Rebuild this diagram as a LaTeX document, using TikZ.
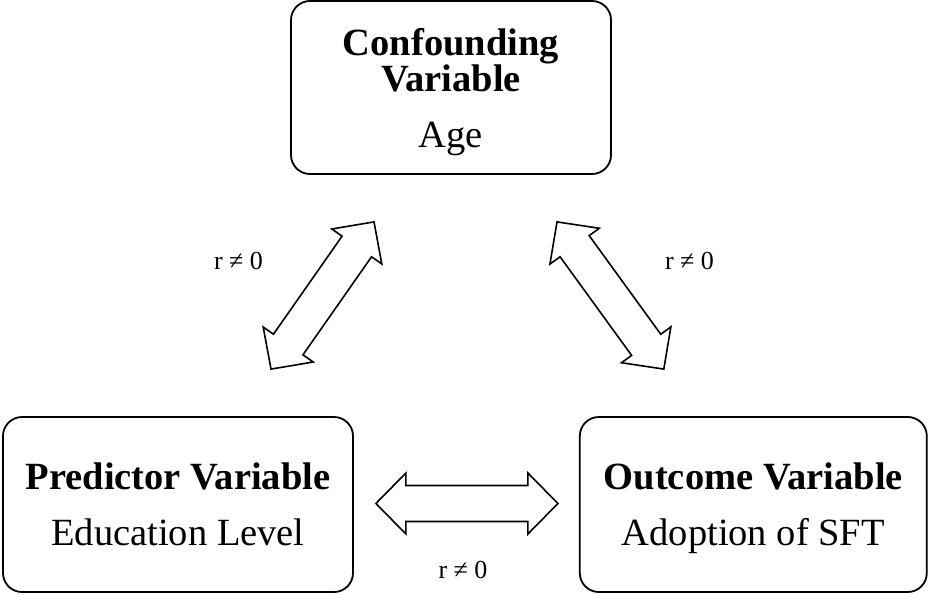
\documentclass[tikz,border=0pt]{standalone}
\usepackage{fontspec}
\setmainfont{Liberation Serif}
\usetikzlibrary{positioning,calc}

% two-headed block arrow between two named coordinates
\newcommand{\dblarrow}[2]{%
  \coordinate (ha) at ($(#1)!30pt!(#2)$);
  \coordinate (hb) at ($(#2)!30pt!(#1)$);
  \draw[blockarrow] (#1) -- ($(ha)!30.5pt!90:(#1)$) -- ($(ha)!18pt!90:(#1)$)
    -- ($(hb)!18pt!-90:(#2)$) -- ($(hb)!30.5pt!-90:(#2)$) -- (#2)
    -- ($(hb)!30.5pt!90:(#2)$) -- ($(hb)!18pt!90:(#2)$)
    -- ($(ha)!18pt!-90:(#1)$) -- ($(ha)!30.5pt!-90:(#1)$) -- cycle;}

\begin{document}
\begin{tikzpicture}[x=1pt, y=-1pt,
    varbox/.style={draw, line width=1.8pt, rounded corners=19pt, inner sep=0pt, text depth=0pt, align=center, font=\fontsize{38.5}{36}\selectfont},
    corrlabel/.style={font=\fontsize{26}{30}\selectfont, inner sep=0pt, anchor=base},
    blockarrow/.style={draw, line width=1.6pt, line join=miter, fill=white}]
  \useasboundingbox (0,0) rectangle (928,594);

  \node[varbox, minimum width=320pt, minimum height=173pt] (conf) at (451,87.5) {\textbf{Confounding}\\\textbf{Variable}\\[20pt]Age};
  \node[varbox, minimum width=350pt, minimum height=175pt] (pred) at (178,504.5) {\textbf{Predictor Variable}\\[20pt]Education Level};
  \node[varbox, minimum width=347pt, minimum height=175pt, right=225pt of pred] (outc) {\textbf{Outcome Variable}\\[20pt]Adoption of SFT};

  % arrow ends, kept clear of the boxes
  \coordinate (pc) at ($(pred.north)+(93,-47)$);
  \coordinate (cp) at ($(conf.south)+(-77,47)$);
  \coordinate (co) at ($(conf.south)+(106,47)$);
  \coordinate (oc) at ($(outc.north)+(-89.5,-47)$);
  \coordinate (po) at ($(pred.east)+(22,-1)$);
  \coordinate (op) at ($(outc.west)+(-21,-1)$);

  \dblarrow{pc}{cp}
  \dblarrow{co}{oc}
  \dblarrow{po}{op}

  \node[corrlabel] (rpc) at (238.5,269) {r ≠ 0};
  \node[corrlabel] (rco) at (689.5,269) {r ≠ 0};
  \node[corrlabel] (rpo) at (463,578) {r ≠ 0};
\end{tikzpicture}
\end{document}
